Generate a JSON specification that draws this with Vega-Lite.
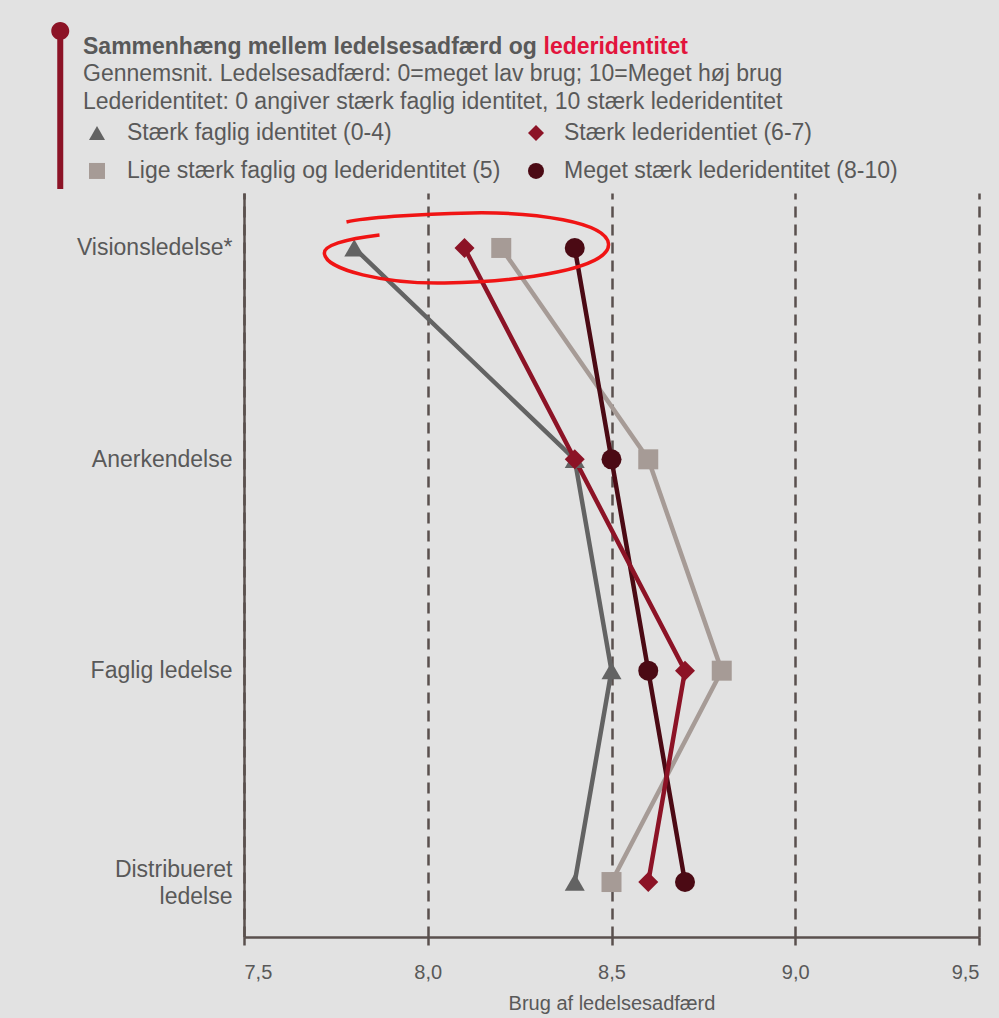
{
  "$schema": "https://vega.github.io/schema/vega-lite/v6.json",
  "width": 735,
  "height": 744,
  "autosize": {"type": "none"},
  "padding": {"left": 244, "top": 193, "right": 20, "bottom": 81},
  "background": "#e2e2e2",
  "title": {
    "text": "Sammenhæng mellem ledelsesadfærd og",
    "subtitle": [
      "Gennemsnit. Ledelsesadfærd: 0=meget lav brug; 10=Meget høj brug",
      "Lederidentitet: 0 angiver stærk faglig identitet, 10 stærk lederidentitet"
    ],
    "anchor": "start",
    "frame": "group",
    "dx": -161,
    "offset": -92,
    "font": "Liberation Sans",
    "fontSize": 23,
    "fontWeight": "bold",
    "color": "#595959",
    "subtitleFont": "Liberation Sans",
    "subtitleFontSize": 23,
    "subtitleColor": "#595959",
    "subtitleLineHeight": 28,
    "subtitlePadding": 4
  },
  "config": {
    "font": "Liberation Sans",
    "view": {"stroke": null}
  },
  "data": {
    "values": [
      {"gruppe": "Stærk faglig identitet (0-4)", "ledelse": "Visionsledelse*", "brug": 7.8},
      {"gruppe": "Stærk faglig identitet (0-4)", "ledelse": "Anerkendelse", "brug": 8.4},
      {"gruppe": "Stærk faglig identitet (0-4)", "ledelse": "Faglig ledelse", "brug": 8.5},
      {"gruppe": "Stærk faglig identitet (0-4)", "ledelse": "Distribueret ledelse", "brug": 8.4},
      {"gruppe": "Lige stærk faglig og lederidentitet (5)", "ledelse": "Visionsledelse*", "brug": 8.2},
      {"gruppe": "Lige stærk faglig og lederidentitet (5)", "ledelse": "Anerkendelse", "brug": 8.6},
      {"gruppe": "Lige stærk faglig og lederidentitet (5)", "ledelse": "Faglig ledelse", "brug": 8.8},
      {"gruppe": "Lige stærk faglig og lederidentitet (5)", "ledelse": "Distribueret ledelse", "brug": 8.5},
      {"gruppe": "Meget stærk lederidentitet (8-10)", "ledelse": "Visionsledelse*", "brug": 8.4},
      {"gruppe": "Meget stærk lederidentitet (8-10)", "ledelse": "Anerkendelse", "brug": 8.5},
      {"gruppe": "Meget stærk lederidentitet (8-10)", "ledelse": "Faglig ledelse", "brug": 8.6},
      {"gruppe": "Meget stærk lederidentitet (8-10)", "ledelse": "Distribueret ledelse", "brug": 8.7},
      {"gruppe": "Stærk lederidentiet (6-7)", "ledelse": "Visionsledelse*", "brug": 8.1},
      {"gruppe": "Stærk lederidentiet (6-7)", "ledelse": "Anerkendelse", "brug": 8.4},
      {"gruppe": "Stærk lederidentiet (6-7)", "ledelse": "Faglig ledelse", "brug": 8.7},
      {"gruppe": "Stærk lederidentiet (6-7)", "ledelse": "Distribueret ledelse", "brug": 8.6}
    ]
  },
  "encoding": {
    "x": {
      "field": "brug",
      "type": "quantitative",
      "scale": {"domain": [7.5, 9.5], "nice": false, "zero": false},
      "axis": {
        "values": [7.5, 8, 8.5, 9, 9.5],
        "labelExpr": "replace(format(datum.value, '.1f'), '.', ',')",
        "title": "Brug af ledelsesadfærd",
        "titleFont": "Liberation Sans",
        "titleFontSize": 20,
        "titleFontWeight": "normal",
        "titleColor": "#595959",
        "titlePadding": 11,
        "labelFont": "Liberation Sans",
        "labelFontSize": 20,
        "labelColor": "#595959",
        "labelPadding": 17,
        "domainColor": "#5a504e",
        "domainWidth": 2.5,
        "tickColor": "#5a504e",
        "tickWidth": 2.5,
        "tickSize": 8,
        "grid": true,
        "gridColor": "#5a504e",
        "gridWidth": 2.5,
        "gridDash": [11, 7],
        "gridOpacity": 1
      }
    },
    "y": {
      "field": "ledelse",
      "type": "nominal",
      "sort": ["Visionsledelse*", "Anerkendelse", "Faglig ledelse", "Distribueret ledelse"],
      "scale": {"type": "point", "padding": 0.26},
      "axis": {
        "title": "lederidentitet",
        "titleAngle": 0,
        "titleX": 299,
        "titleY": -140,
        "titleAlign": "left",
        "titleBaseline": "alphabetic",
        "titleFont": "Liberation Sans",
        "titleFontSize": 23,
        "titleFontWeight": "bold",
        "titleColor": "#e2143c",
        "labelExpr": "datum.label == 'Distribueret ledelse' ? ['Distribueret', 'ledelse'] : datum.label",
        "labelOffset": {"condition": {"test": "datum.value == 'Distribueret ledelse'", "value": -13}, "value": 0},
        "labelFont": "Liberation Sans",
        "labelFontSize": 23,
        "labelColor": "#595959",
        "labelLineHeight": 27,
        "labelPadding": 12,
        "ticks": false,
        "grid": false,
        "domainColor": "#5a504e",
        "domainWidth": 2.5
      }
    }
  },
  "layer": [
    {
      "mark": {"type": "line", "strokeWidth": 4.5},
      "encoding": {
        "stroke": {
          "field": "gruppe",
          "type": "nominal",
          "scale": {
            "domain": ["Stærk faglig identitet (0-4)", "Stærk lederidentiet (6-7)", "Lige stærk faglig og lederidentitet (5)", "Meget stærk lederidentitet (8-10)"],
            "range": ["#636363", "#8c1326", "#a69b96", "#4b0a14"]
          },
          "legend": null
        }
      }
    },
    {
      "mark": {"type": "point", "filled": true, "opacity": 1, "size": 400},
      "encoding": {
        "color": {
          "field": "gruppe",
          "type": "nominal",
          "scale": {
            "domain": ["Stærk faglig identitet (0-4)", "Stærk lederidentiet (6-7)", "Lige stærk faglig og lederidentitet (5)", "Meget stærk lederidentitet (8-10)"],
            "range": ["#636363", "#8c1326", "#a69b96", "#4b0a14"]
          },
          "legend": null
        },
        "shape": {
          "field": "gruppe",
          "type": "nominal",
          "scale": {
            "domain": ["Stærk faglig identitet (0-4)", "Stærk lederidentiet (6-7)", "Lige stærk faglig og lederidentitet (5)", "Meget stærk lederidentitet (8-10)"],
            "range": ["triangle-up", "diamond", "square", "circle"]
          },
          "legend": null
        }
      }
    },
    {
      "transform": [{"filter": "datum.gruppe == 'Stærk faglig identitet (0-4)' && datum.ledelse == 'Visionsledelse*'"}],
      "mark": {
        "type": "point",
        "filled": false,
        "size": 4,
        "stroke": "#f01414",
        "strokeWidth": 3.5,
        "opacity": 1,
        "shape": "M-85,-13 C-120,-9 -142,-2 -140,6 C-138,22 -80,36 -20,35 C60,34 146,20 144,-4 C142,-26 70,-36 7,-35 C-50,-34 -100,-30 -118,-26"
      },
      "encoding": {
        "x": {"datum": 8.1, "type": "quantitative"},
        "y": {"datum": "Visionsledelse*", "type": "nominal"}
      }
    },
    {
      "transform": [{"filter": "datum.gruppe == 'Stærk faglig identitet (0-4)' && datum.ledelse == 'Visionsledelse*'"}],
      "mark": {
        "type": "point",
        "filled": true,
        "size": 4,
        "color": "#8c1326",
        "opacity": 1,
        "shape": "M-3,-212 L3,-212 L3,-59 L-3,-59 Z M-9,-217 A9,9 0 1,1 9,-217 A9,9 0 1,1 -9,-217 Z"
      },
      "encoding": {
        "x": {"datum": 7.0, "type": "quantitative"},
        "y": {"datum": "Visionsledelse*", "type": "nominal"}
      }
    },
    {
      "transform": [{"filter": "datum.gruppe == 'Stærk faglig identitet (0-4)' && datum.ledelse == 'Visionsledelse*'"}],
      "mark": {"type": "point", "shape": "triangle-up", "filled": true, "opacity": 1, "color": "#636363", "size": 256, "xOffset": -147, "yOffset": -115},
      "encoding": {
        "x": {"datum": 7.5, "type": "quantitative"},
        "y": {"datum": "Visionsledelse*", "type": "nominal"}
      }
    },
    {
      "transform": [{"filter": "datum.gruppe == 'Stærk faglig identitet (0-4)' && datum.ledelse == 'Visionsledelse*'"}],
      "mark": {"type": "text", "text": "Stærk faglig identitet (0-4)", "align": "left", "baseline": "middle", "dx": -117, "dy": -115, "font": "Liberation Sans", "fontSize": 23, "color": "#595959"},
      "encoding": {
        "x": {"datum": 7.5, "type": "quantitative"},
        "y": {"datum": "Visionsledelse*", "type": "nominal"}
      }
    },
    {
      "transform": [{"filter": "datum.gruppe == 'Stærk lederidentiet (6-7)' && datum.ledelse == 'Visionsledelse*'"}],
      "mark": {"type": "point", "shape": "diamond", "filled": true, "opacity": 1, "color": "#8c1326", "size": 256, "xOffset": 292, "yOffset": -115},
      "encoding": {
        "x": {"datum": 7.5, "type": "quantitative"},
        "y": {"datum": "Visionsledelse*", "type": "nominal"}
      }
    },
    {
      "transform": [{"filter": "datum.gruppe == 'Stærk lederidentiet (6-7)' && datum.ledelse == 'Visionsledelse*'"}],
      "mark": {"type": "text", "text": "Stærk lederidentiet (6-7)", "align": "left", "baseline": "middle", "dx": 320, "dy": -115, "font": "Liberation Sans", "fontSize": 23, "color": "#595959"},
      "encoding": {
        "x": {"datum": 7.5, "type": "quantitative"},
        "y": {"datum": "Visionsledelse*", "type": "nominal"}
      }
    },
    {
      "transform": [{"filter": "datum.gruppe == 'Lige stærk faglig og lederidentitet (5)' && datum.ledelse == 'Visionsledelse*'"}],
      "mark": {"type": "point", "shape": "square", "filled": true, "opacity": 1, "color": "#a69b96", "size": 256, "xOffset": -147, "yOffset": -77},
      "encoding": {
        "x": {"datum": 7.5, "type": "quantitative"},
        "y": {"datum": "Visionsledelse*", "type": "nominal"}
      }
    },
    {
      "transform": [{"filter": "datum.gruppe == 'Lige stærk faglig og lederidentitet (5)' && datum.ledelse == 'Visionsledelse*'"}],
      "mark": {"type": "text", "text": "Lige stærk faglig og lederidentitet (5)", "align": "left", "baseline": "middle", "dx": -117, "dy": -77, "font": "Liberation Sans", "fontSize": 23, "color": "#595959"},
      "encoding": {
        "x": {"datum": 7.5, "type": "quantitative"},
        "y": {"datum": "Visionsledelse*", "type": "nominal"}
      }
    },
    {
      "transform": [{"filter": "datum.gruppe == 'Meget stærk lederidentitet (8-10)' && datum.ledelse == 'Visionsledelse*'"}],
      "mark": {"type": "point", "shape": "circle", "filled": true, "opacity": 1, "color": "#4b0a14", "size": 256, "xOffset": 292, "yOffset": -77},
      "encoding": {
        "x": {"datum": 7.5, "type": "quantitative"},
        "y": {"datum": "Visionsledelse*", "type": "nominal"}
      }
    },
    {
      "transform": [{"filter": "datum.gruppe == 'Meget stærk lederidentitet (8-10)' && datum.ledelse == 'Visionsledelse*'"}],
      "mark": {"type": "text", "text": "Meget stærk lederidentitet (8-10)", "align": "left", "baseline": "middle", "dx": 320, "dy": -77, "font": "Liberation Sans", "fontSize": 23, "color": "#595959"},
      "encoding": {
        "x": {"datum": 7.5, "type": "quantitative"},
        "y": {"datum": "Visionsledelse*", "type": "nominal"}
      }
    }
  ]
}
